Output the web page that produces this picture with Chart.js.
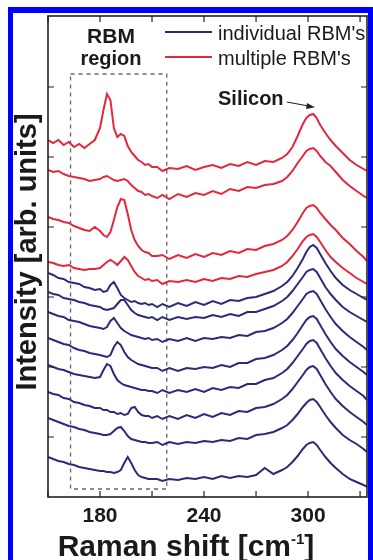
<!DOCTYPE html>
<html>
<head>
<meta charset="utf-8">
<script src="https://cdn.jsdelivr.net/npm/chart.js@4.4.1/dist/chart.umd.min.js"></script>
<style>
  html, body { margin: 0; padding: 0; background: #fff; }
  #wrap { position: relative; width: 373px; height: 560px; overflow: hidden; }
  #chart { position: absolute; left: 0; top: 0; }
  #frame { position: absolute; left: 8px; top: 7px; width: 355px; height: 560px;
           border: 5px solid #0000ff; border-top-width: 6px; border-bottom: none; }
</style>
</head>
<body>
<div id="wrap">
  <canvas id="chart" width="373" height="560"></canvas>
  <div id="frame"></div>
</div>
<script>
// Raman shift (cm-1) sampled for all spectra
const shifts = [150,153,156,159,162,165,168,171,174,177,
  180,182,184,186,188,190,192,194,196,198,200,202,204,206,208,210,
  213,216,220,
  225,230,235,240,245,250,255,260,265,270,275,280,285,
  288,291,294,297,
  299,301,303,305,307,
  310,313,316,
  320,324,328,332,334];

// multiple RBM's spectra (offset, arb. units), top to bottom
const multiple1 = [360,357,360,355,358,353,356,352,356,360,
  372,390,406,400,372,363,366,364,354,348,344,340,338,335,336,333,
  333,329,332,
  331,334,330,333,335,332,336,334,338,335,339,338,342,
  346,353,364,376,
  382,385,386,382,375,
  367,360,354,
  347,340,335,331,329];
const multiple2 = [330,328,329,326,324,323,322,321,319,320,
  321,323,324,322,320,319,320,321,319,315,312,309,308,305,306,304,
  302,305,301,
  306,303,307,305,309,306,311,309,313,312,315,316,319,
  323,329,337,344,
  349,351,352,349,344,
  338,334,328,
  320,314,309,304,302];
const multiple3 = [283,281,280,278,277,274,272,270,269,273,
  269,265,263,268,280,293,301,300,286,270,260,254,250,248,247,244,
  244,245,241,
  245,242,246,243,247,245,249,247,251,250,254,256,260,
  264,270,278,287,
  292,294,295,292,287,
  281,275,270,
  262,256,249,243,239];
const multiple4 = [238,237,235,234,235,232,231,230,231,231,
  232,235,238,240,238,235,239,243,240,234,228,224,222,220,221,219,
  220,216,219,
  218,220,218,221,219,222,221,224,223,226,228,230,234,
  238,244,251,259,
  263,265,266,263,258,
  250,243,238,
  232,227,222,218,216];

// individual RBM's spectra, top to bottom
const individual1 = [227,225,222,221,218,217,216,213,212,210,
  211,208,209,215,218,212,205,202,200,198,199,197,196,197,195,196,
  193,196,193,
  197,194,198,195,199,196,200,199,202,203,206,209,214,
  218,224,232,241,
  248,253,255,252,246,
  237,229,222,
  215,210,206,202,200];
const individual2 = [208,206,205,202,201,200,198,197,195,194,
  193,191,190,191,192,196,200,200,195,190,187,185,184,183,182,183,
  180,183,180,
  183,181,183,182,185,183,186,184,188,188,191,194,199,
  203,209,216,223,
  228,230,231,228,222,
  213,206,200,
  193,188,184,180,178];
const individual3 = [188,186,184,183,180,179,178,176,174,173,
  172,171,173,179,182,177,172,169,167,165,164,163,162,161,162,160,
  161,158,161,
  159,162,159,162,161,163,162,165,164,168,169,172,177,
  181,187,194,201,
  206,208,209,206,200,
  191,183,176,
  169,163,158,153,150];
const individual4 = [162,160,158,156,155,152,150,149,147,146,
  145,144,143,145,153,158,155,148,143,140,138,136,135,134,133,132,
  132,129,132,
  129,132,131,133,132,135,133,137,137,141,142,145,150,
  154,160,167,175,
  180,183,184,181,175,
  166,158,151,
  144,138,133,128,125];
const individual5 = [135,133,131,130,128,126,125,124,123,122,
  123,130,136,134,126,120,117,115,114,113,112,111,110,110,109,109,
  107,110,107,
  110,108,111,108,112,110,113,112,116,116,120,122,127,
  131,137,144,151,
  156,159,160,157,151,
  142,134,127,
  120,114,109,104,100];
const individual6 = [108,106,105,102,101,98,97,95,94,92,
  92,90,90,88,88,86,87,85,86,92,93,88,85,84,84,82,
  84,81,84,
  81,85,82,86,83,87,85,89,88,92,93,96,101,
  105,111,118,125,
  130,133,134,131,125,
  116,108,101,
  94,88,83,78,75];
const individual7 = [82,80,78,76,74,73,71,70,68,67,
  66,65,65,66,69,72,73,69,64,61,60,59,58,58,57,57,
  58,55,58,
  56,58,57,59,58,60,59,62,61,65,66,68,72,
  75,80,86,93,
  97,100,101,98,93,
  85,78,72,
  65,60,56,51,48];
const individual8 = [43,41,39,38,36,35,33,32,31,30,
  29,29,28,28,27,28,30,37,43,37,30,25,23,22,21,21,
  21,19,21,
  20,22,21,23,21,24,22,24,23,25,32,26,30,
  33,38,44,51,
  55,57,58,55,50,
  43,37,32,
  26,21,18,15,13];

const multipleSeries = [multiple1, multiple2, multiple3, multiple4];
const individualSeries = [individual1, individual2, individual3, individual4,
  individual5, individual6, individual7, individual8];

const xTickValues = [150, 180, 210, 240, 270, 300, 330];
const xTickLabels = [180, 240, 300];
const yTickValues = [63, 133, 203, 273, 343, 413];

const RED = '#e2283c';
const NAVY = '#2c2b79';
const FONT = '"Liberation Sans", Arial, sans-serif';

// RBM region box in data units
const rbmBox = { x0: 163, x1: 218.5, y0: 11, y1: 426 };

const toPoints = s => s.map((v, i) => ({ x: shifts[i], y: v }));

const datasets = [];
multipleSeries.forEach(s => datasets.push({
  label: "multiple RBM's", data: toPoints(s), borderColor: RED
}));
individualSeries.forEach(s => datasets.push({
  label: "individual RBM's", data: toPoints(s), borderColor: NAVY
}));

const decor = {
  id: 'decor',
  beforeDatasetsDraw(chart) {
    const c = chart.ctx, x = chart.scales.x, y = chart.scales.y;
    c.save();
    c.strokeStyle = '#666';
    c.lineWidth = 1.3;
    c.setLineDash([4, 4]);
    c.strokeRect(x.getPixelForValue(rbmBox.x0), y.getPixelForValue(rbmBox.y1),
      x.getPixelForValue(rbmBox.x1) - x.getPixelForValue(rbmBox.x0),
      y.getPixelForValue(rbmBox.y0) - y.getPixelForValue(rbmBox.y1));
    c.restore();
  },
  afterDraw(chart) {
    const c = chart.ctx, a = chart.chartArea, x = chart.scales.x, y = chart.scales.y;
    c.save();
    // frame
    c.strokeStyle = '#222';
    c.lineWidth = 1.6;
    c.strokeRect(a.left, a.top, a.right - a.left, a.bottom - a.top);
    // inward ticks
    c.lineWidth = 1.2;
    c.beginPath();
    xTickValues.forEach(v => {
      const px = x.getPixelForValue(v);
      c.moveTo(px, a.bottom); c.lineTo(px, a.bottom - 6);
      c.moveTo(px, a.top); c.lineTo(px, a.top + 6);
    });
    yTickValues.forEach(v => {
      const py = y.getPixelForValue(v);
      c.moveTo(a.left, py); c.lineTo(a.left + 6, py);
      c.moveTo(a.right, py); c.lineTo(a.right - 6, py);
    });
    c.stroke();

    // legend
    c.lineWidth = 2;
    c.strokeStyle = NAVY;
    c.beginPath(); c.moveTo(165, 32); c.lineTo(212, 32); c.stroke();
    c.strokeStyle = RED;
    c.beginPath(); c.moveTo(165, 57); c.lineTo(212, 57); c.stroke();
    c.fillStyle = '#1a1a1a';
    c.font = '20px ' + FONT;
    c.textAlign = 'left';
    c.textBaseline = 'alphabetic';
    c.fillText("individual RBM's", 218, 40);
    c.fillText("multiple RBM's", 218, 65);

    // annotations
    c.font = 'bold 21px ' + FONT;
    c.textAlign = 'center';
    c.fillText('RBM', 111, 43);
    c.font = 'bold 20px ' + FONT;
    c.fillText('region', 111, 65);
    c.textAlign = 'left';
    c.fillText('Silicon', 218, 105);
    c.strokeStyle = '#222';
    c.lineWidth = 1.2;
    c.beginPath(); c.moveTo(287, 102); c.lineTo(311, 106.5); c.stroke();
    c.fillStyle = '#222';
    c.beginPath(); c.moveTo(315, 107.3); c.lineTo(307, 103); c.lineTo(306, 109); c.closePath(); c.fill();

    // axis titles
    c.fillStyle = '#1a1a1a';
    c.font = 'bold 30px ' + FONT;
    const t1 = 'Raman shift [cm', t2 = '-1', t3 = ']';
    const w1 = c.measureText(t1).width, w3 = c.measureText(t3).width;
    c.font = 'bold 15px ' + FONT;
    const w2 = c.measureText(t2).width;
    let sx = 186 - (w1 + w2 + w3) / 2;
    c.font = 'bold 30px ' + FONT;
    c.fillText(t1, sx, 556);
    c.font = 'bold 15px ' + FONT;
    c.fillText(t2, sx + w1, 544);
    c.font = 'bold 30px ' + FONT;
    c.fillText(t3, sx + w1 + w2, 556);

    c.font = 'bold 29px ' + FONT;
    c.translate(36, 252);
    c.rotate(-Math.PI / 2);
    c.textAlign = 'center';
    c.fillText('Intensity [arb. units]', 0, 0);
    c.restore();
  }
};

const ctx = document.getElementById('chart').getContext('2d');
const chart = new Chart(ctx, {
  type: 'line',
  data: { datasets },
  options: {
    responsive: false,
    animation: false,
    layout: { padding: { left: 8, top: 16, right: 6, bottom: 0 } },
    elements: {
      line: { borderWidth: 2, tension: 0 },
      point: { radius: 0 }
    },
    plugins: { legend: { display: false }, tooltip: { enabled: false } },
    scales: {
      x: {
        type: 'linear', min: 150, max: 334,
        grid: { display: false, drawTicks: false },
        border: { display: false },
        afterBuildTicks: s => { s.ticks = xTickLabels.map(v => ({ value: v })); },
        afterFit: s => { s.height = 63; },
        ticks: { color: '#1a1a1a', padding: 7, maxRotation: 0,
                 font: { family: FONT, size: 21, weight: 'bold' } }
      },
      y: {
        type: 'linear', min: 3, max: 484,
        grid: { display: false, drawTicks: false },
        border: { display: false },
        ticks: { display: false },
        afterFit: s => { s.width = 40; }
      }
    }
  },
  plugins: [decor]
});
</script>
</body>
</html>
